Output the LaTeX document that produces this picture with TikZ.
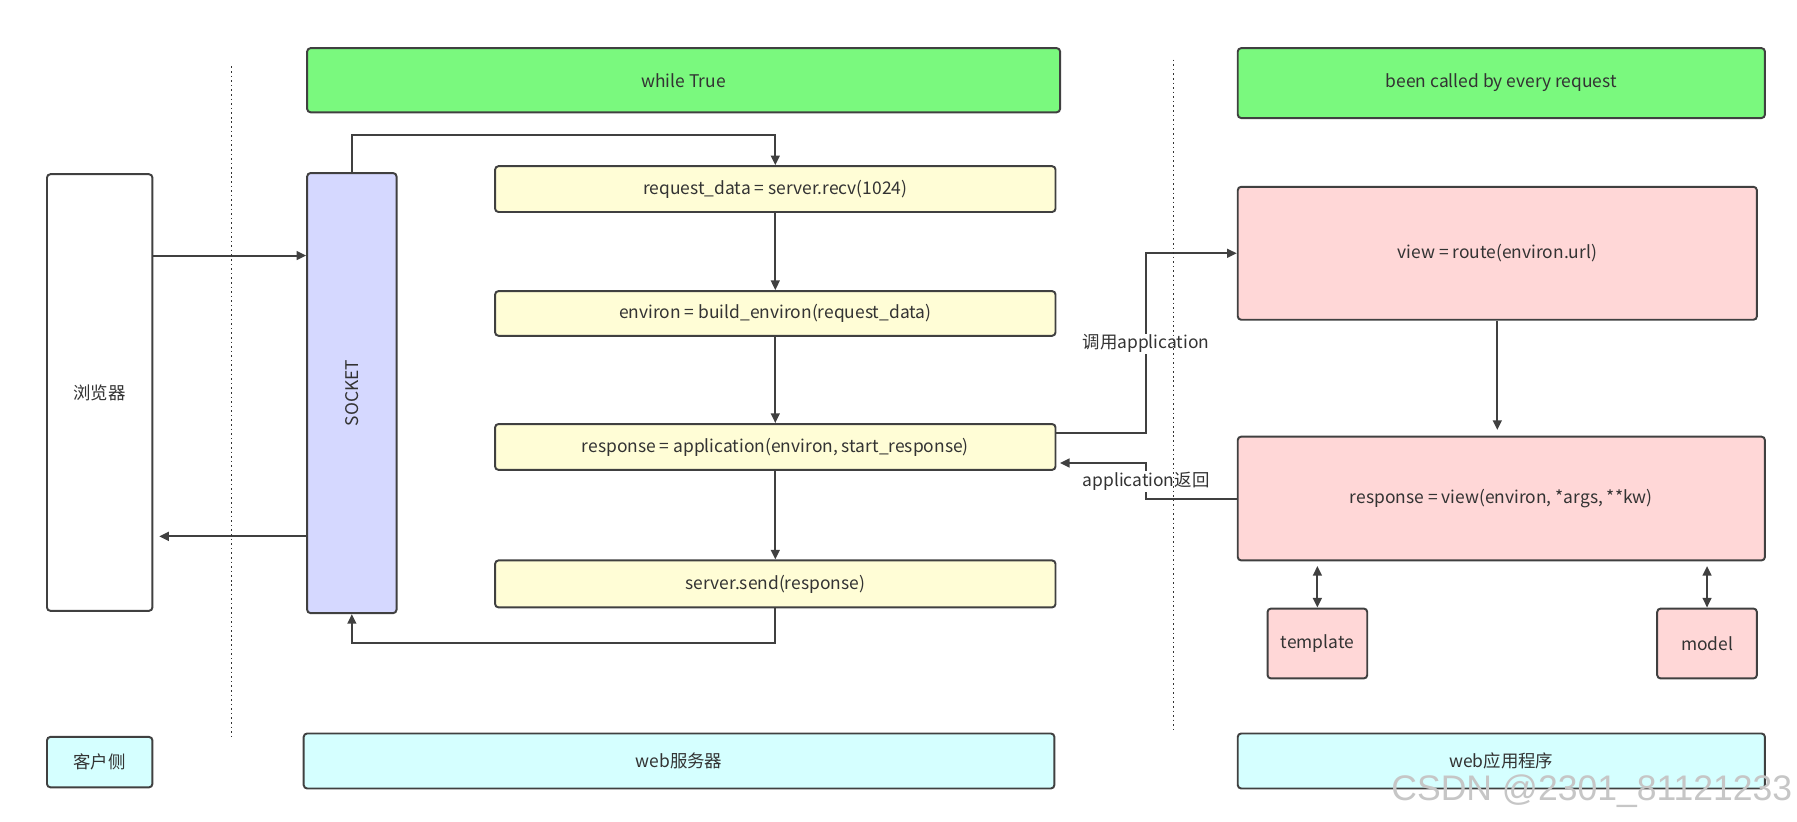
\documentclass[tikz,border=0pt]{standalone}
\usepackage{fontspec}
\setmainfont{Noto Sans CJK SC}
\newfontfamily\wmfont{Liberation Sans}
\usetikzlibrary{arrows.meta,calc}
\definecolor{txt}{HTML}{333333}
\definecolor{ln}{HTML}{404040}
\definecolor{grn}{HTML}{7AF97E}
\definecolor{ylw}{HTML}{FFFDD6}
\definecolor{pnk}{HTML}{FFD7D7}
\definecolor{cyn}{HTML}{D5FFFF}
\definecolor{lav}{HTML}{D5D8FF}
\tikzset{
  box/.style={draw=ln, line width=0.85pt, rounded corners=1.5pt, inner sep=0pt, text=txt,
    font=\fontsize{7.6}{9}\selectfont},
  arr/.style={draw=ln, line width=0.9pt, -{Triangle[length=4.2pt,width=3.8pt]}},
  darr/.style={draw=ln, line width=0.9pt, {Triangle[length=4.2pt,width=3.8pt]}-{Triangle[length=4.2pt,width=3.8pt]}},
  lbl/.style={fill=white, inner sep=0.5pt, text=txt, font=\fontsize{7.6}{9}\selectfont},
  sep/.style={draw=txt, line width=0.75pt, dash pattern=on 0.7pt off 1.3pt},
}
\begin{document}
\begin{tikzpicture}[x=0.5pt,y=-0.5pt]
\useasboundingbox (0,0) rectangle (1568,717);
% boxes
\node[box, fill=grn, minimum width=328.5pt, minimum height=28pt] (loop) at (596.5,70) {while True};
\node[box, fill=grn, minimum width=230pt, minimum height=30.5pt] (every) at (1310,72.5) {been called by every request};
\node[box, fill=white, minimum width=46pt, minimum height=190.5pt] (browser) at (87,342.5) {浏览器};
\node[box, fill=lav, minimum width=39pt, minimum height=192pt] (socket) at (307,343) {};
\node[text=txt, rotate=90, font=\fontsize{7.6}{9}\selectfont, inner sep=0pt] (socklbl) at (307,343) {SOCKET};
\node[box, fill=ylw, minimum width=244.5pt, minimum height=20pt] (req) at (676.5,165) {request\_data = server.recv(1024)};
\node[box, fill=ylw, minimum width=244.5pt, minimum height=19.5pt] (env) at (676.5,273.5) {environ = build\_environ(request\_data)};
\node[box, fill=ylw, minimum width=244.5pt, minimum height=20pt] (resp) at (676.5,390) {response = application(environ, start\_response)};
\node[box, fill=ylw, minimum width=244.5pt, minimum height=20.5pt] (send) at (676.5,509.5) {server.send(response)};
\node[box, fill=pnk, minimum width=226.5pt, minimum height=58pt] (view) at (1306.5,221) {view = route(environ.url)};
\node[box, fill=pnk, minimum width=230pt, minimum height=54pt] (rv) at (1310,435) {response = view(environ, *args, **kw)};
\node[box, fill=pnk, minimum width=43.5pt, minimum height=30.5pt] (tpl) at (1149.5,561.5) {template};
\node[box, fill=pnk, minimum width=43.5pt, minimum height=30.5pt] (model) at (1489.5,561.5) {model};
\node[box, fill=cyn, minimum width=46pt, minimum height=22pt] (client) at (87,665) {客户侧};
\node[box, fill=cyn, minimum width=327.5pt, minimum height=24pt] (server) at (592.5,664) {web服务器};
\node[box, fill=cyn, minimum width=230pt, minimum height=24pt] (app) at (1310,664) {web应用程序};
% helper coordinates
\coordinate (l1) at (0,223);
\coordinate (l2) at (0,468);
\coordinate (top) at (0,118);
\coordinate (bot) at (0,561);
\coordinate (c378) at (0,378);
\coordinate (c404) at (0,404);
\coordinate (xm) at (1000,0);
% connectors
\draw[arr] (browser.east |- l1) -- (socket.west |- l1);
\draw[arr] (socket.west |- l2) -- ([xshift=2.5pt]browser.east |- l2);
\draw[arr] (socket.north) -- (socket.north |- top) -- (req.north |- top) -- (req.north);
\draw[arr] (req.south) -- (env.north);
\draw[arr] (env.south) -- (resp.north);
\draw[arr] (resp.south) -- (send.north);
\draw[arr] (send.south) -- (send.south |- bot) -- (socket.south |- bot) -- (socket.south);
\draw[arr] (resp.east |- c378) -- (xm |- c378) -- (xm |- view.west) -- (view.west);
\draw[arr] (rv.west) -- (xm |- rv.west) -- (xm |- c404) -- ([xshift=1.5pt]resp.east |- c404);
\draw[arr, shorten >=2.5pt] (view.south) -- (view.south |- rv.north);
\draw[darr, shorten <=2pt] (tpl.north |- rv.south) -- (tpl.north);
\draw[darr, shorten <=2pt] (model.north |- rv.south) -- (model.north);
% labels
\node[lbl] (call) at (1000,300) {调用application};
\node[lbl] (ret) at (1000,420) {application返回};
% separators
\coordinate (s1a) at (202,58);
\coordinate (s1b) at (202,643);
\coordinate (s2a) at (1024,52);
\coordinate (s2b) at (1024,637);
\draw[sep] (s1a) -- (s1b);
\draw[sep] (s2a) -- (s2b);
% watermark
\node[text=gray!45, font=\wmfont\fontsize{15.5}{17}\selectfont, inner sep=0pt] (wm) at (1389,690) {CSDN @2301\_81121233};
\end{tikzpicture}
\end{document}
